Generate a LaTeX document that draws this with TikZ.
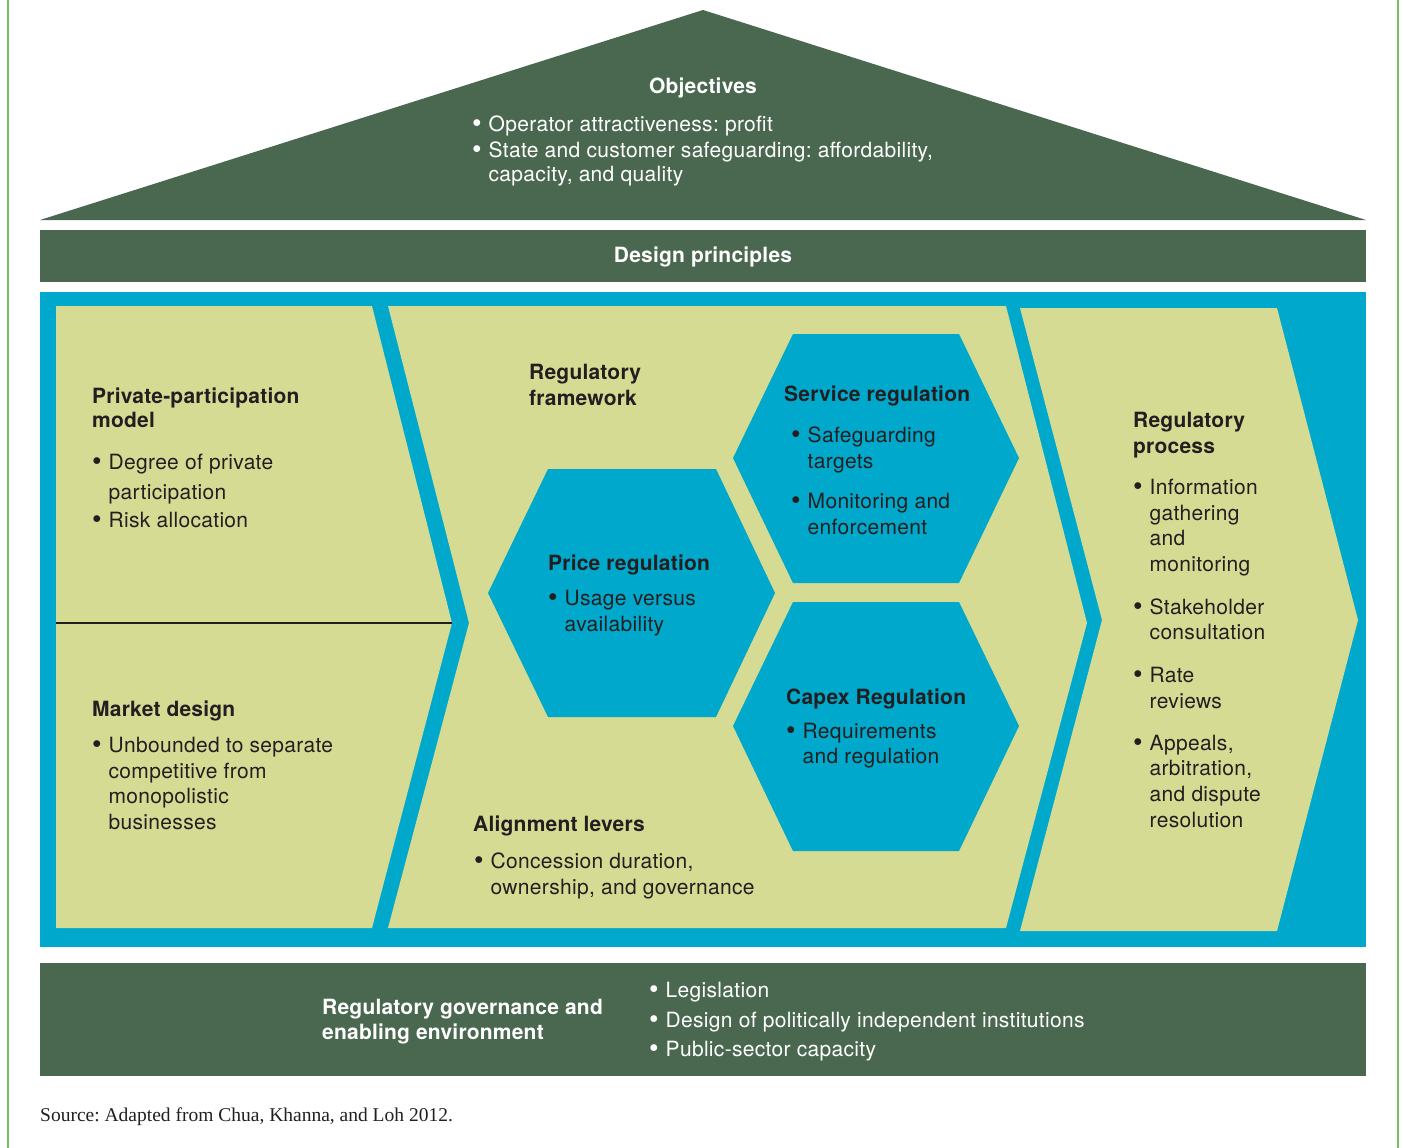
\documentclass[tikz,border=0pt]{standalone}
\usepackage{fontspec}
\setmainfont{TeX Gyre Heros}[LetterSpace=1.5]
\newfontfamily\hdfont{TeX Gyre Heros}[LetterSpace=1.0]
\newfontfamily\srcfont{Liberation Serif}
\frenchspacing
\definecolor{dkgreen}{RGB}{74,104,80}
\definecolor{cblue}{RGB}{0,168,204}
\definecolor{khaki}{RGB}{213,219,147}
\definecolor{txtdark}{RGB}{35,31,32}
\definecolor{sidegreen}{RGB}{120,190,100}
\newcommand{\bl}{\makebox[16.5pt][l]{\raisebox{-1.2pt}{\scalebox{1.3}{\textbullet}}}}
\tikzset{
  tx/.style={anchor=base west, inner sep=0pt, font=\fontsize{21}{24}\selectfont, text=txtdark},
  hd/.style={tx, font=\hdfont\fontsize{21}{24}\selectfont\bfseries},
  wtx/.style={tx, text=white},
  whd/.style={hd, text=white},
}
\begin{document}
\frenchspacing
\begin{tikzpicture}[x=1pt,y=-1pt]
\useasboundingbox (0,0) rectangle (1403,1148);
% side rules
\draw[sidegreen, line width=1.5pt] (8,0) -- (8,1148);
\draw[sidegreen, line width=1.5pt] (1398,0) -- (1398,1148);
% roof
\fill[dkgreen] (40,220) -- (703,10) -- (1366,220) -- cycle;
% design principles bar
\fill[dkgreen] (40,230) rectangle (1366,282);
% blue body
\fill[cblue] (40,292) rectangle (1366,947);
% chevrons
\fill[khaki] (56,306) -- (372,306) -- (452,623) -- (372,928) -- (56,928) -- cycle;
\fill[khaki] (388,306) -- (1006,306) -- (1087,623) -- (1006,928) -- (388,928) -- (469,623) -- cycle;
\fill[khaki] (1020,308) -- (1277,308) -- (1358,620) -- (1277,931) -- (1020,931) -- (1102,620) -- cycle;
% divider
\coordinate (dl) at (56,623);
\coordinate (dr) at (452,623);
\draw[txtdark, line width=1.2pt] (dl) -- (dr);
% hexagons
\fill[cblue] (488,593) -- (548,469) -- (716,469) -- (775,593) -- (716,717) -- (548,717) -- cycle;
\fill[cblue] (733,458) -- (793,334) -- (959,334) -- (1019,458) -- (959,583) -- (793,583) -- cycle;
\fill[cblue] (733,726) -- (793,602) -- (959,602) -- (1019,726) -- (959,851) -- (793,851) -- cycle;
% bottom bar
\fill[dkgreen] (40,963) rectangle (1366,1076);

% objectives
\node[whd, anchor=base] (obj) at (703,93) {Objectives};
\node[wtx] (obj1) at (472,131) {\bl Operator attractiveness: profit};
\node[wtx] (obj2) at (472,157) {\bl State and customer safeguarding: affordability,};
\node[wtx] (obj3) at (488.5,181) {capacity, and quality};
\node[whd, anchor=base] (dp) at (703,262) {Design principles};

% left panel
\node[hd] (ppm1) at (92,403) {Private-participation};
\node[hd] (ppm2) at (92,427) {model};
\node[tx] (ppm3) at (92,469) {\bl Degree of private};
\node[tx] (ppm4) at (108.5,499) {participation};
\node[tx] (ppm5) at (92,527) {\bl Risk allocation};
\node[hd] (md1) at (92,716) {Market design};
\node[tx] (md2) at (92,752) {\bl Unbounded to separate};
\node[tx] (md3) at (108.5,778) {competitive from};
\node[tx] (md4) at (108.5,803) {monopolistic};
\node[tx] (md5) at (108.5,829) {businesses};

% middle panel
\node[hd] (rf1) at (529,379) {Regulatory};
\node[hd] (rf2) at (529,405) {framework};
\node[hd] (sr1) at (784,401) {Service regulation};
\node[tx] (sr2) at (791,442) {\bl Safeguarding};
\node[tx] (sr3) at (807.5,468) {targets};
\node[tx] (sr4) at (791,508) {\bl Monitoring and};
\node[tx] (sr5) at (807.5,534) {enforcement};
\node[hd] (pr1) at (548,570) {Price regulation};
\node[tx] (pr2) at (548,605) {\bl Usage versus};
\node[tx] (pr3) at (564.5,631) {availability};
\node[hd] (cr1) at (786,704) {Capex Regulation};
\node[tx] (cr2) at (786,738) {\bl Requirements};
\node[tx] (cr3) at (802.5,763) {and regulation};
\node[hd] (al1) at (473,831) {Alignment levers};
\node[tx] (al2) at (474,868) {\bl Concession duration,};
\node[tx] (al3) at (490.5,894) {ownership, and governance};

% right panel
\node[hd] (rp1) at (1133,427) {Regulatory};
\node[hd] (rp2) at (1133,453) {process};
\node[tx] (rp3) at (1133,494) {\bl Information};
\node[tx] (rp4) at (1149.5,520) {gathering};
\node[tx] (rp5) at (1149.5,545) {and};
\node[tx] (rp6) at (1149.5,571) {monitoring};
\node[tx] (rp7) at (1133,614) {\bl Stakeholder};
\node[tx] (rp8) at (1149.5,639) {consultation};
\node[tx] (rp9) at (1133,682) {\bl Rate};
\node[tx] (rp10) at (1149.5,708) {reviews};
\node[tx] (rp11) at (1133,750) {\bl Appeals,};
\node[tx] (rp12) at (1149.5,775) {arbitration,};
\node[tx] (rp13) at (1149.5,801) {and dispute};
\node[tx] (rp14) at (1149.5,827) {resolution};

% bottom bar
\node[whd] (rg1) at (322,1014) {Regulatory governance and};
\node[whd] (rg2) at (322,1039) {enabling environment};
\node[wtx] (rg3) at (649,997) {\bl Legislation};
\node[wtx] (rg4) at (649,1027) {\bl Design of politically independent institutions};
\node[wtx] (rg5) at (649,1056) {\bl Public-sector capacity};

% source
\node[tx, font=\srcfont\fontsize{19.5}{22}\selectfont] (src) at (40,1121) {Source: Adapted from Chua, Khanna, and Loh 2012.};
\end{tikzpicture}
\end{document}
